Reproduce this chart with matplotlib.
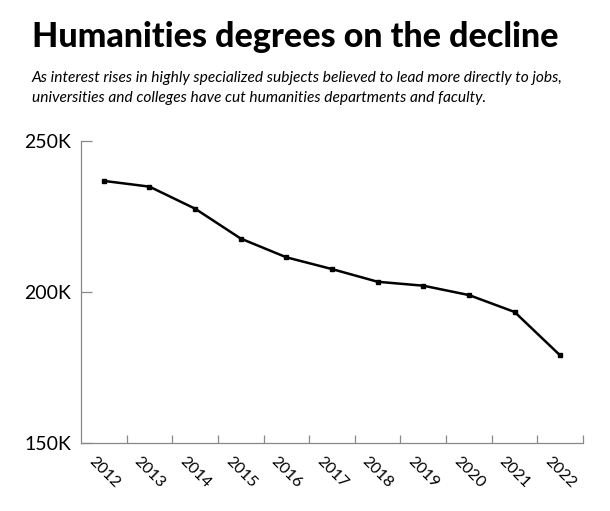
import numpy as np
import matplotlib.pyplot as plt

years = ['2012', '2013', '2014', '2015', '2016', '2017', '2018', '2019', '2020', '2021', '2022']
degrees = [236.8, 234.9, 227.6, 217.7, 211.5, 207.6, 203.4, 202.1, 199.0, 193.4, 179.0]  # thousands
ytick_values = [150, 200, 250]
ytick_labels = ['150K', '200K', '250K']

title = 'Humanities degrees on the decline'
subtitle = ('As interest rises in highly specialized subjects believed to lead more directly to jobs,\n'
            'universities and colleges have cut humanities departments and faculty.')

fig = plt.figure(figsize=(6.1, 5.11), dpi=100)
ax = fig.add_axes([0.1328, 0.133, 0.823, 0.591])

x = np.arange(len(years))
ax.plot(x, degrees, color='black', lw=1.8, marker='s', markersize=3.5)

ax.set_xlim(-0.5, len(years) - 0.5)
ax.set_ylim(150, 250)

grey = '#888888'
for side in ['top', 'right']:
    ax.spines[side].set_visible(False)
for side in ['left', 'bottom']:
    ax.spines[side].set_color(grey)
    ax.spines[side].set_linewidth(0.9)

# tick marks sit on the year boundaries, labels on the year centres
ax.set_xticks(x + 0.5)
ax.set_xticklabels([])
ax.set_xticks(x, minor=True)
ax.set_xticklabels(years, minor=True, rotation=-45, ha='center', va='top',
                   fontsize=11.5, family='Lato')
ax.tick_params(axis='x', which='major', direction='in', length=5.5, color=grey, width=0.9)
ax.tick_params(axis='x', which='minor', length=0, pad=8)

ax.set_yticks(ytick_values)
ax.set_yticklabels(ytick_labels, fontsize=14, family='Lato')
ax.tick_params(axis='y', direction='in', length=8, color=grey, width=0.9, pad=7)

fig.text(0.052, 0.908, title, fontsize=24.5, fontweight='black', family='Lato')
fig.text(0.052, 0.861, subtitle, fontsize=11.2, style='italic', family='Lato',
         linespacing=1.55, va='top')

fig.savefig('out.png', dpi=100)
